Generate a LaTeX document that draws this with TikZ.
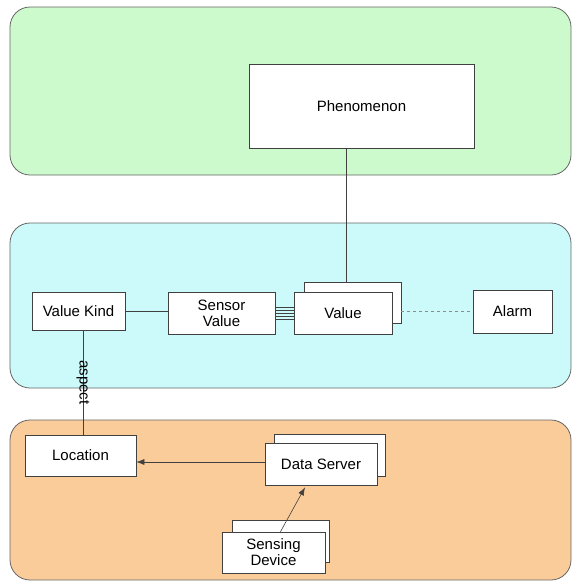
\documentclass[tikz,border=0pt]{standalone}
\usepackage{fontspec}
\setmainfont{Liberation Sans}
\usepackage{xcolor}
\usepackage{tikz}
\usetikzlibrary{arrows.meta}

\definecolor{phengreen}{RGB}{204,250,204}
\definecolor{valuecyan}{RGB}{204,250,250}
\definecolor{deviceorange}{RGB}{250,204,153}

\begin{document}
\begin{tikzpicture}[x=1pt, y=-1pt,
    box/.style={draw=black!75, fill=white, line width=0.7pt, align=center,
        inner sep=2pt, font=\fontsize{15}{16}\selectfont},
    panel/.style={draw=black!60, line width=0.8pt, rounded corners=20pt},
    link/.style={draw=black!75, line width=0.6pt}]

\useasboundingbox (0,0) rectangle (576,584);

% layers
\draw[panel, fill=phengreen] (10,7) rectangle (571,175);
\draw[panel, fill=valuecyan] (10,223) rectangle (571,388);
\draw[panel, fill=deviceorange] (10,420) rectangle (571,580);

\node[box, minimum width=225pt, minimum height=84pt] (phen) at (361.5,106) {Phenomenon};

\node[box, minimum width=93pt, minimum height=38pt] (kind) at (78.5,311) {Value Kind};
\node[box, minimum width=107pt, minimum height=42pt] (sensor) at (221.5,313) {Sensor\\Value};
\node[box, minimum width=97pt, minimum height=41pt] (valueback) at (352.5,302.5) {};
\node[box, minimum width=98pt, minimum height=42pt] (value) at (343,313) {Value};
\node[box, minimum width=79pt, minimum height=43pt] (alarm) at (512.5,311.5) {Alarm};

\node[box, minimum width=111pt, minimum height=41pt] (loc) at (80.5,455.5) {Location};
\node[box, minimum width=111pt, minimum height=42pt] (dserverback) at (329.5,455) {};
\node[box, minimum width=112pt, minimum height=42pt] (dserver) at (321,464) {Data Server};
\node[box, minimum width=97pt, minimum height=42pt] (sdevback) at (280.5,541) {};
\node[box, minimum width=103pt, minimum height=41pt] (sdev) at (273.5,552.5) {Sensing\\Device};

\draw[link] ([xshift=-15.5pt]phen.south) -- ([xshift=-15.5pt]phen.south |- valueback.north);
\draw[link] (kind.east) -- (kind.east -| sensor.west);
\foreach \dy in {-6,-3,0,3,6}
    \draw[link] ([yshift=\dy pt]sensor.east) -- ([yshift=\dy pt]sensor.east -| value.west);
\draw[link, draw=black!45, dashed] (valueback.east |- alarm.west) -- (alarm.west);
\draw[link] ([xshift=4.5pt]kind.south) -- node[rotate=-90, font=\fontsize{15}{16}\selectfont] {aspect}
    ([xshift=4.5pt]kind.south |- loc.north);
\draw[link, -{Latex[length=8pt,width=6pt]}] ([yshift=2pt]dserver.west) -- ([yshift=2pt]dserver.west -| loc.east);
\draw[link, -{Latex[length=8pt,width=6pt]}] ([xshift=7pt]sdev.north) -- ([xshift=-16pt, yshift=-2pt]dserver.south);

\end{tikzpicture}
\end{document}
